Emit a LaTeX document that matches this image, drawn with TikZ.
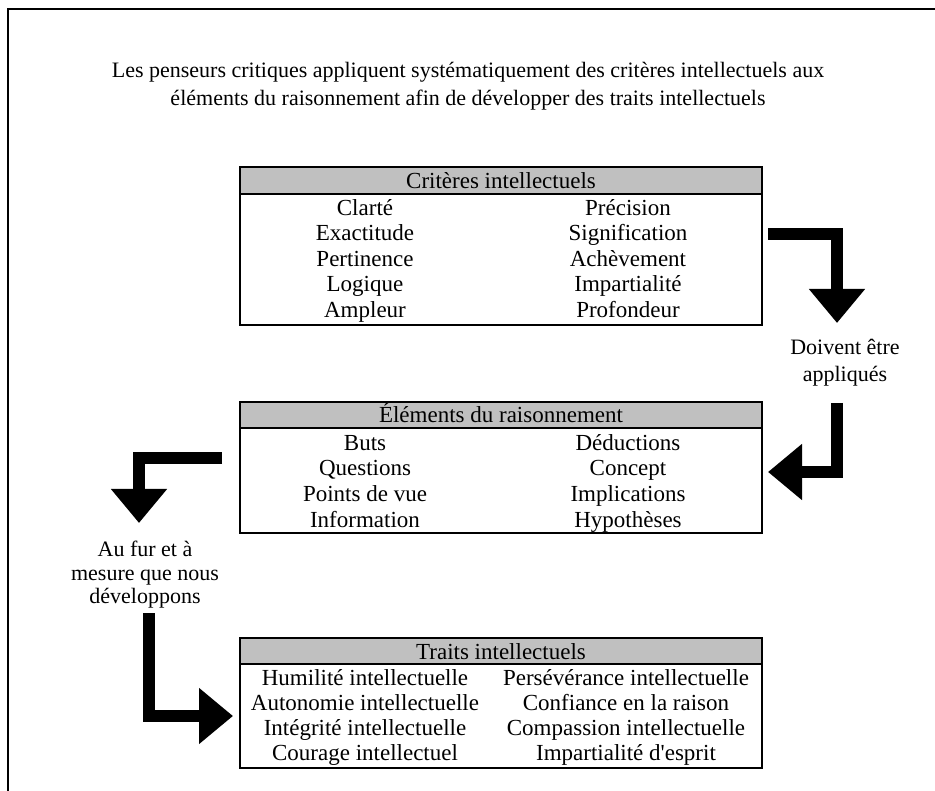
\documentclass[tikz,border=0pt]{standalone}
\usepackage{fontspec}
\setmainfont{Liberation Serif}
\usetikzlibrary{positioning, arrows.meta}
\definecolor{hdrgray}{RGB}{192,192,192}

\begin{document}
\begin{tikzpicture}[x=1pt, y=-1pt,
  hdr/.style={draw, line width=1.5pt, fill=hdrgray, minimum width=522pt,
              minimum height=27pt, inner sep=0pt, outer sep=0pt,
              text height=16pt, text depth=0pt, font=\fontsize{23}{25}\selectfont},
  tbl/.style={draw, line width=1.5pt, minimum width=522pt, inner sep=0pt, outer sep=0pt},
  item/.style={anchor=base, inner sep=0pt, font=\fontsize{23}{25}\selectfont},
  note/.style={align=center, inner sep=0pt, font=\fontsize{22}{27}\selectfont},
  arr/.style={-{Triangle[length=34pt, width=54pt]}, line width=12pt, line join=miter}
]
  \useasboundingbox (0,0) rectangle (935,791);
  %% frame
  \draw[line width=2pt] (935,9) -- (8,9) -- (8,791);

  %% title
  \node[note, font=\fontsize{22}{28}\selectfont] (title) at (468,86)
    {Les penseurs critiques appliquent systématiquement des critères intellectuels aux\\
     éléments du raisonnement afin de développer des traits intellectuels};

  %% Critères intellectuels
  \node[hdr, anchor=north] (crith) at (501,167) {Critères intellectuels};
  \node[tbl, minimum height=131pt, below=0pt of crith] (crit) {};
  \foreach \l/\r [count=\i] in {Clarté/Précision, Exactitude/Signification,
      Pertinence/Achèvement, Logique/Impartialité, Ampleur/Profondeur}{
    \node[item] (crit-l\i) at (365,{190+25.5*\i}) {\l};
    \node[item] (crit-r\i) at (628,{190+25.5*\i}) {\r};
  }

  %% Éléments du raisonnement
  \node[hdr, anchor=north, minimum height=26pt] (elemh) at (501,402) {Éléments du raisonnement};
  \node[tbl, minimum height=105pt, below=0pt of elemh] (elem) {};
  \foreach \l/\r [count=\i] in {Buts/Déductions, Questions/Concept,
      Points de vue/Implications, Information/Hypothèses}{
    \node[item] (elem-l\i) at (365,{425+25.5*\i}) {\l};
    \node[item] (elem-r\i) at (628,{425+25.5*\i}) {\r};
  }

  %% Traits intellectuels
  \node[hdr, anchor=north, minimum height=26pt] (traith) at (501,638) {Traits intellectuels};
  \node[tbl, minimum height=104pt, below=0pt of traith] (trait) {};
  \foreach \l/\r [count=\i] in {Humilité intellectuelle/Persévérance intellectuelle,
      Autonomie intellectuelle/Confiance en la raison,
      Intégrité intellectuelle/Compassion intellectuelle,
      Courage intellectuel/Impartialité d\textquotesingle esprit}{
    \node[item] (trait-l\i) at (365,{660+25*\i}) {\l};
    \node[item] (trait-r\i) at (626,{660+25*\i}) {\r};
  }

  %% side labels
  \node[note] (lblapp) at (845,363) {Doivent être\\appliqués};
  \node[note, font=\fontsize{22}{23.5}\selectfont] (lbldev) at (145,575)
    {Au fur et à\\mesure que nous\\développons};

  %% arrow ends next to the labels
  \coordinate (app-in)  at (837,323);
  \coordinate (app-out) at (837,403);
  \coordinate (dev-in)  at (139,523);
  \coordinate (dev-out) at (149,613);

  %% block arrows
  \draw[arr] ([xshift=6pt,yshift=25.5pt]crit.east) -| (app-in);
  \draw[arr] (app-out) |- ([xshift=6pt,yshift=8.5pt]elem.east);
  \draw[arr] ([xshift=-18pt,yshift=22.5pt]elem.west) -| (dev-in);
  \draw[arr] (dev-out) |- ([xshift=-7pt]trait.west);
\end{tikzpicture}
\end{document}
